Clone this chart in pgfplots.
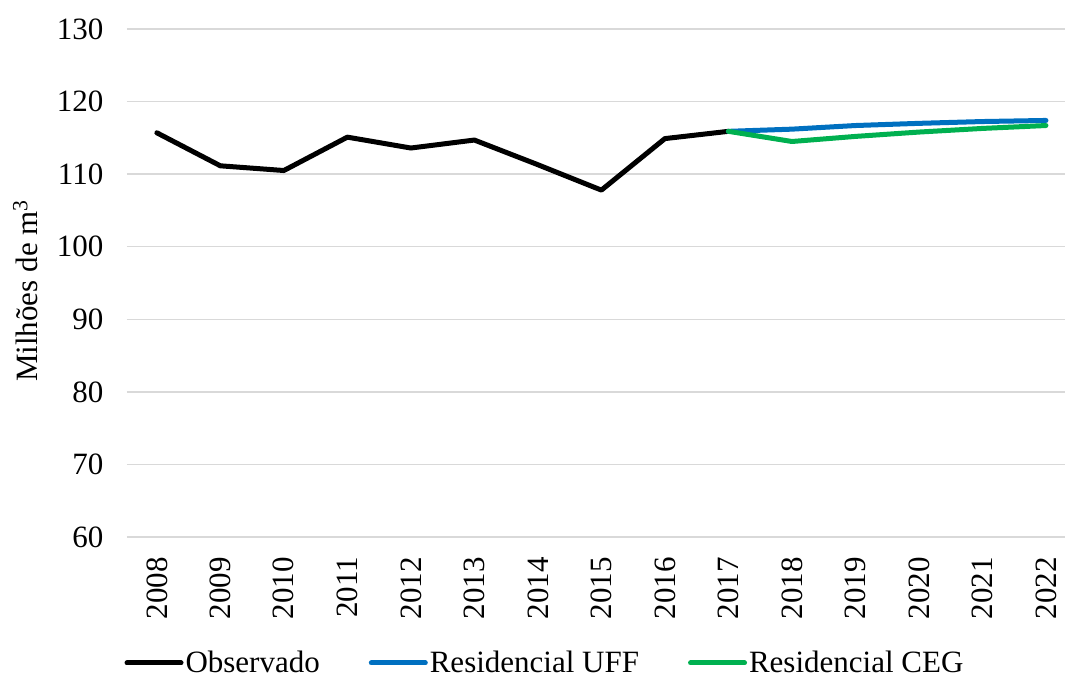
\documentclass[border=0pt]{standalone}
\usepackage{pgfplots}
\pgfplotsset{compat=1.18}
\usepackage{fontspec}
\setmainfont{Liberation Serif}
\definecolor{gridgray}{HTML}{D9D9D9}
\definecolor{uffblue}{HTML}{0070C0}
\definecolor{ceggreen}{HTML}{00B050}
\begin{document}
\begin{tikzpicture}
\useasboundingbox (-63.5pt,-70pt) rectangle (469pt,268.5pt);
\begin{axis}[
  at={(0,0)}, anchor=south west,
  scale only axis,
  width=469pt, height=254pt,
  xmin=2007.53, xmax=2022.3,
  ymin=60, ymax=130,
  ytick={60,70,...,130},
  xtick={2008,2009,...,2022},
  xticklabels={2008,2009,2010,2011,2012,2013,2014,2015,2016,2017,2018,2019,2020,2021,2022},
  ymajorgrids,
  grid style={gridgray, line width=0.75pt},
  axis line style={draw=none},
  major tick length=0pt,
  tick label style={font=\fontsize{15.5}{18}\selectfont},
  /pgf/number format/assume math mode=true,
  xticklabel style={rotate=90, anchor=east, xshift=-6.5pt, inner ysep=0pt},
  yticklabel style={xshift=-8.3pt},
  ylabel={Milhões de m\textsuperscript{3}},
  ylabel style={at={(axis description cs:-0.108,0.485)}, anchor=center, font=\fontsize{15.5}{18}\selectfont},
  legend columns=3,
  legend style={at={(axis description cs:0.4456,-0.248)}, anchor=center, draw=none, fill=none,
    font=\fontsize{15.5}{18}\selectfont,
    /tikz/every even column/.append style={column sep=23.5pt},
    nodes={inner sep=1pt}},
  legend image code/.code={\draw[#1] (0pt,0pt) -- (27pt,0pt);},
  every axis plot/.append style={line width=2.5pt, line cap=round, line join=round},
  clip=false,
]
\addplot[black] coordinates {
(2008,115.7) (2009,111.15) (2010,110.5) (2011,115.1) (2012,113.6) (2013,114.7)
(2014,111.3) (2015,107.8) (2016,114.9) (2017,115.9)};
\addlegendentry{Observado}
\addplot[uffblue] coordinates {
(2017,115.9) (2018,116.2) (2019,116.7) (2020,117.0) (2021,117.25) (2022,117.4)};
\addlegendentry{Residencial UFF}
\addplot[ceggreen] coordinates {
(2017,115.9) (2018,114.5) (2019,115.2) (2020,115.8) (2021,116.3) (2022,116.7)};
\addlegendentry{Residencial CEG}
\end{axis}
\end{tikzpicture}
\end{document}
